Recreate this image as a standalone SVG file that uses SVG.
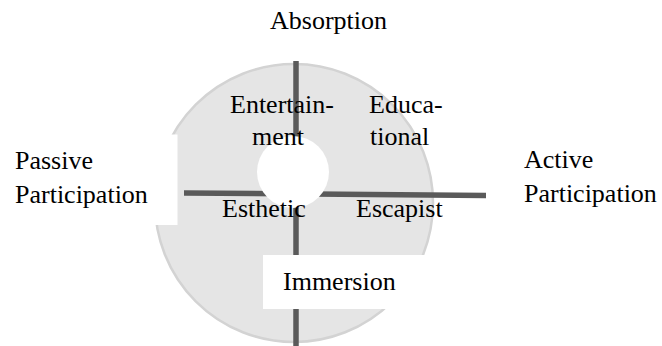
<svg xmlns="http://www.w3.org/2000/svg" width="662" height="346" viewBox="0 0 662 346">
<style>
.t{font-family:'Liberation Serif','Times New Roman',serif;font-size:26px;fill:#000}
.axis{stroke:#5a5a5a;stroke-width:5.5;fill:none}
.mask{fill:#fff;stroke:none}
</style>
<rect width="662" height="346" fill="#fff"/>
<g id="disc">
<circle cx="294" cy="203" r="139" fill="#e5e5e5" stroke="#d3d3d3" stroke-width="2.5"/>
</g>
<g id="connectors">
<line class="axis" x1="296" y1="61" x2="296" y2="346"/>
<line class="axis" x1="184" y1="193" x2="486" y2="195.5"/>
</g>
<g id="hub">
<circle cx="293" cy="172" r="36" class="mask"/>
</g>
<g id="passive">
<rect class="mask" x="0" y="134.5" width="177.5" height="90.5"/>
<text class="t" x="15" y="169">Passive</text>
<text class="t" x="15" y="203">Participation</text>
</g>
<g id="immersion">
<rect class="mask" x="263" y="255" width="167" height="54"/>
<text class="t" x="283" y="290">Immersion</text>
</g>
<g id="absorption">
<text class="t" x="270" y="29">Absorption</text>
</g>
<g id="active">
<text class="t" x="524" y="168">Active</text>
<text class="t" x="524" y="202">Participation</text>
</g>
<g id="entertainment">
<text class="t" x="230" y="113">Entertain-</text>
<text class="t" x="252" y="145">ment</text>
</g>
<g id="educational">
<text class="t" x="369" y="113">Educa-</text>
<text class="t" x="370" y="145">tional</text>
</g>
<g id="esthetic">
<text class="t" x="222" y="217">Esthetic</text>
</g>
<g id="escapist">
<text class="t" x="356" y="217">Escapist</text>
</g>
</svg>
